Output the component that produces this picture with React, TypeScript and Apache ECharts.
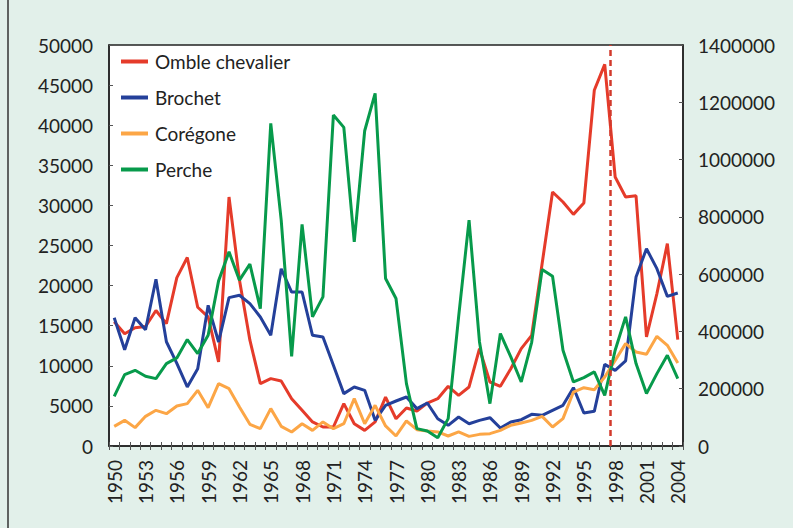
import React, { useEffect, useRef } from "react";
import * as echarts from "echarts";

const years: string[] = [];
for (let y = 1950; y <= 2004; y++) years.push(String(y));

const omble = [
  15500, 14000, 14750, 14900, 16900, 15250, 21000, 23500, 17300, 16100,
  10500, 31050, 20700, 13200, 7770, 8400, 8100, 5900, 4450, 3000,
  2370, 2370, 5280, 2780, 1950, 3000, 6100, 3400, 4740, 4360,
  5360, 5900, 7440, 6320, 7360, 12140, 7980, 7440, 9640, 12140,
  13800, 22730, 31670, 30420, 28880, 30300, 44350, 47590, 33540, 31050,
  31200, 13590, 19000, 25230, 13260,
];

const brochet = [
  16000, 12000, 16000, 14500, 20800, 13000, 10300, 7360, 9640, 17540,
  12970, 18500, 18800, 17750, 16090, 13800, 22100, 19200, 19200, 13800,
  13600, 10060, 6530, 7360, 6940, 3200, 5070, 5610, 6110, 4660,
  5360, 3400, 2580, 3620, 2780, 3200, 3530, 2240, 3000, 3280,
  3950, 3820, 4450, 5070, 7270, 4120, 4320, 10180, 9430, 10600,
  21070, 24600, 22110, 18660, 19080,
];

const coregone = [
  2450, 3200, 2290, 3700, 4450, 4030, 4990, 5280, 6940, 4780,
  7770, 7150, 4860, 2700, 2160, 4660, 2450, 1750, 2780, 1950,
  3000, 2160, 2780, 5900, 2780, 5070, 2500, 1250, 3120, 2040,
  1870, 1750, 1250, 1750, 1200, 1450, 1540, 1950, 2580, 2870,
  3200, 3700, 2370, 3410, 6730, 7270, 7020, 8600, 10680, 12760,
  11720, 11430, 13670, 12550, 10350,
];

const perche = [
  173500, 249200, 264400, 243400, 235300, 287700, 307500, 371500, 322600, 386700,
  576500, 677800, 578900, 634800, 479900, 1126300, 788500, 313300, 773400, 450700,
  520600, 1155400, 1112300, 712800, 1100600, 1231100, 584700, 514800, 217800, 60600,
  52400, 29100, 95500, 450700, 788500, 363400, 147900, 392500, 311000, 223600,
  362000, 616100, 592800, 334300, 223600, 238800, 258600, 177000, 334300, 450700,
  287700, 182900, 252700, 316800, 235300,
];

const seriesNames = ["Omble chevalier", "Brochet", "Corégone", "Perche"];
const seriesColors = ["#e53b2a", "#24409a", "#fca646", "#079a4b"];
const markerYear = 1997.5;

const FONT = "Lato, 'Open Sans', sans-serif";

export default function App() {
  const ref = useRef<HTMLDivElement>(null);
  useEffect(() => {
    if (!ref.current) return;
    const chart = echarts.init(ref.current, undefined, { renderer: "svg" });
    const grid = { left: 109, right: 110, top: 45, bottom: 82 };
    const axisLineStyle = { color: "#222", width: 1.5 };
    const plain = (v: number) => String(v);
    chart.setOption({
      animation: false,
      backgroundColor: "#e2f0ea",
      textStyle: { fontFamily: FONT },
      grid: { ...grid, show: true, backgroundColor: "#ffffff", borderColor: "#222", borderWidth: 1.5 },
      legend: {
        data: seriesNames,
        orient: "vertical",
        left: 116,
        top: 47,
        icon: "rect",
        itemWidth: 27,
        itemHeight: 4,
        itemGap: 17,
        textStyle: { fontSize: 19, color: "#222", fontFamily: FONT, lineHeight: 19, padding: [0, 0, 0, 2] },
      },
      xAxis: [
        {
          type: "category",
          data: years,
          boundaryGap: true,
          axisLine: { lineStyle: axisLineStyle },
          axisTick: { show: true, interval: 0, length: 4, lineStyle: { color: "#555" } },
          axisLabel: { interval: 2, rotate: 90, margin: 14, fontSize: 19, color: "#222", fontFamily: FONT },
          splitLine: { show: false },
        },
        {
          type: "category",
          data: years,
          boundaryGap: true,
          position: "bottom",
          axisLine: { show: false },
          axisTick: { show: true, interval: 0, inside: true, length: 4, lineStyle: { color: "#555" } },
          axisLabel: { show: false },
          splitLine: { show: false },
        },
        {
          type: "value",
          min: 1949.5,
          max: 2004.5,
          show: false,
          splitLine: { show: false },
        },
      ],
      yAxis: [
        {
          type: "value",
          min: 0,
          max: 50000,
          interval: 5000,
          axisLine: { show: true, lineStyle: axisLineStyle },
          axisTick: { show: true, inside: true, length: 4, lineStyle: { color: "#555" } },
          axisLabel: { margin: 16, fontSize: 19, color: "#222", fontFamily: FONT, formatter: plain },
          splitLine: { show: false },
        },
        {
          type: "value",
          min: 0,
          max: 1400000,
          interval: 200000,
          position: "right",
          axisLine: { show: true, lineStyle: axisLineStyle },
          axisTick: { show: true, inside: true, length: 4, lineStyle: { color: "#555" } },
          axisLabel: { margin: 15, fontSize: 19, color: "#222", fontFamily: FONT, formatter: plain },
          splitLine: { show: false },
        },
      ],
      series: [
        { name: seriesNames[0], type: "line", data: omble, yAxisIndex: 0, xAxisIndex: 0 },
        { name: seriesNames[1], type: "line", data: brochet, yAxisIndex: 0, xAxisIndex: 0 },
        { name: seriesNames[2], type: "line", data: coregone, yAxisIndex: 0, xAxisIndex: 0 },
        { name: seriesNames[3], type: "line", data: perche, yAxisIndex: 1, xAxisIndex: 0 },
      ]
        .map((s, i) => ({
          ...s,
          color: seriesColors[i],
          symbol: "none",
          lineStyle: { width: 3, color: seriesColors[i] },
          z: i === 3 ? 3 : 2,
        }))
        .concat([
          {
            name: "marker",
            type: "line",
            xAxisIndex: 2,
            yAxisIndex: 0,
            data: [],
            symbol: "none",
            markLine: {
              silent: true,
              symbol: "none",
              label: { show: false },
              lineStyle: { type: [6, 4], color: "#d23a2c", width: 2.5 },
              data: [{ xAxis: markerYear }],
            },
          } as any,
        ]),
      graphic: [
        {
          type: "line",
          shape: { x1: 8, y1: 0, x2: 8, y2: 528 },
          style: { stroke: "#333", lineWidth: 1.5 },
        },
      ],
    });
    return () => chart.dispose();
  }, []);
  return (
    <div
      ref={ref}
      style={{ position: "fixed", left: 0, top: 0, width: 793, height: 528 }}
    />
  );
}
